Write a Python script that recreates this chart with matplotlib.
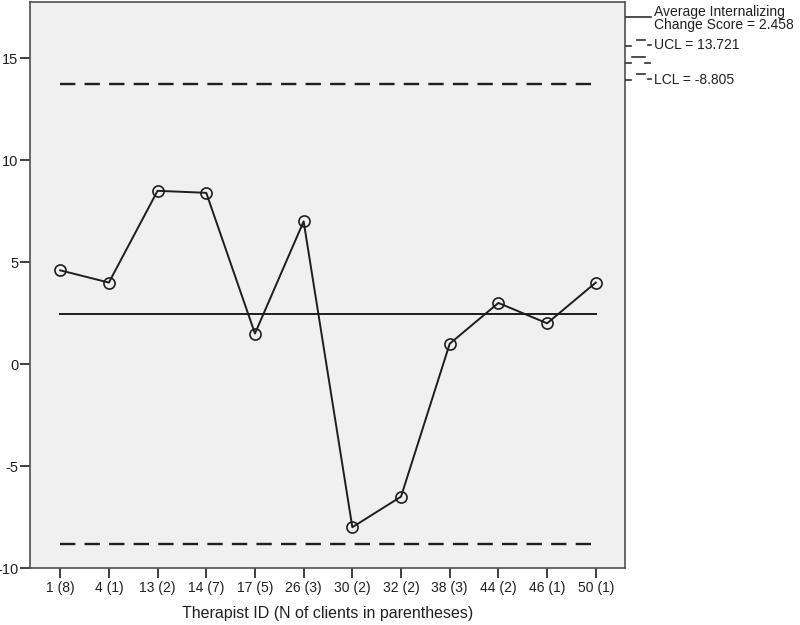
import numpy as np
import matplotlib.pyplot as plt
from matplotlib.lines import Line2D

plt.rcParams['font.family'] = ['Liberation Sans', 'DejaVu Sans']

# data
therapists = ['1 (8)', '4 (1)', '13 (2)', '14 (7)', '17 (5)', '26 (3)',
              '30 (2)', '32 (2)', '38 (3)', '44 (2)', '46 (1)', '50 (1)']
changeScores = [4.6, 4.0, 8.5, 8.4, 1.5, 7.0, -8.0, -6.5, 1.0, 3.0, 2.0, 4.0]
average = 2.458
ucl = 13.721
lcl = -8.805

fig = plt.figure(figsize=(8, 6.25), dpi=100)
ax = fig.add_axes([30/800, 1 - 568/625, (625 - 30)/800, (568 - 2)/625])
ax.set_facecolor('#f0f0f0')

x_pos = np.arange(len(therapists))
lineCol = '#1e1e1e'

ax.plot(x_pos, changeScores, '-', color=lineCol, lw=1.4, zorder=3)
ax.plot(x_pos, changeScores, 'o', mfc='none', mec=lineCol, mew=1.2, ms=8, zorder=4)
ax.plot([x_pos[0], x_pos[-1]], [average, average], '-', color=lineCol, lw=1.4, zorder=2)
ax.plot([x_pos[0], x_pos[-1]], [ucl, ucl], color=lineCol, lw=1.7, dashes=(6.5, 3.9), zorder=2)
ax.plot([x_pos[0], x_pos[-1]], [lcl, lcl], color=lineCol, lw=1.7, dashes=(6.5, 3.9), zorder=2)

ax.set_xlim(-0.62, 11.6)
ax.set_ylim(-10, 17.76)
ax.set_xticks(x_pos)
ax.set_xticklabels(therapists)
ax.set_yticks([-10, -5, 0, 5, 10, 15])
ax.set_yticklabels(['-10', '-5', '0', '5', '10', '15'])

for spine in ax.spines.values():
    spine.set_color('#505050')
    spine.set_linewidth(1.2)
ax.tick_params(axis='both', which='both', direction='out', length=7.5, width=1.3,
               color='#303030', labelsize=10, labelcolor='#202020', pad=2)
ax.tick_params(axis='y', labelsize=10.5, pad=1)
ax.set_xlabel('Therapist ID (N of clients in parentheses)', fontsize=11.5,
              color='#202020', labelpad=8)

# SPSS style legend on the right, drawn in figure pixels
def px(x, y):
    return x/800, 1 - y/625

legCol = '#303030'
fig.add_artist(Line2D([px(626, 0)[0], px(651, 0)[0]], [px(0, 17)[1]]*2,
                      color=legCol, lw=1.2))
fig.text(*px(654, 12), 'Average Internalizing', fontsize=10, va='center', color='#202020')
fig.text(*px(654, 25), 'Change Score = 2.458', fontsize=10, va='center', color='#202020')

for y in [45, 79]:
    fig.add_artist(Line2D([px(626, 0)[0], px(631, 0)[0]], [px(0, y + 1)[1]]*2, color=legCol, lw=1.2))
    fig.add_artist(Line2D([px(637, 0)[0], px(645, 0)[0]], [px(0, y - 5)[1]]*2, color=legCol, lw=1.2))
    fig.add_artist(Line2D([px(648, 0)[0], px(651, 0)[0]], [px(0, y)[1]]*2, color=legCol, lw=1.2))
fig.add_artist(Line2D([px(632, 0)[0], px(645, 0)[0]], [px(0, 57)[1]]*2, color=legCol, lw=1.2))
fig.add_artist(Line2D([px(626, 0)[0], px(631, 0)[0]], [px(0, 63)[1]]*2, color=legCol, lw=1.2))
fig.add_artist(Line2D([px(645, 0)[0], px(650, 0)[0]], [px(0, 63)[1]]*2, color=legCol, lw=1.2))

fig.text(*px(654, 45), 'UCL = 13.721', fontsize=10, va='center', color='#202020')
fig.text(*px(654, 80), 'LCL = -8.805', fontsize=10, va='center', color='#202020')

plt.savefig('out.png', dpi=100)
